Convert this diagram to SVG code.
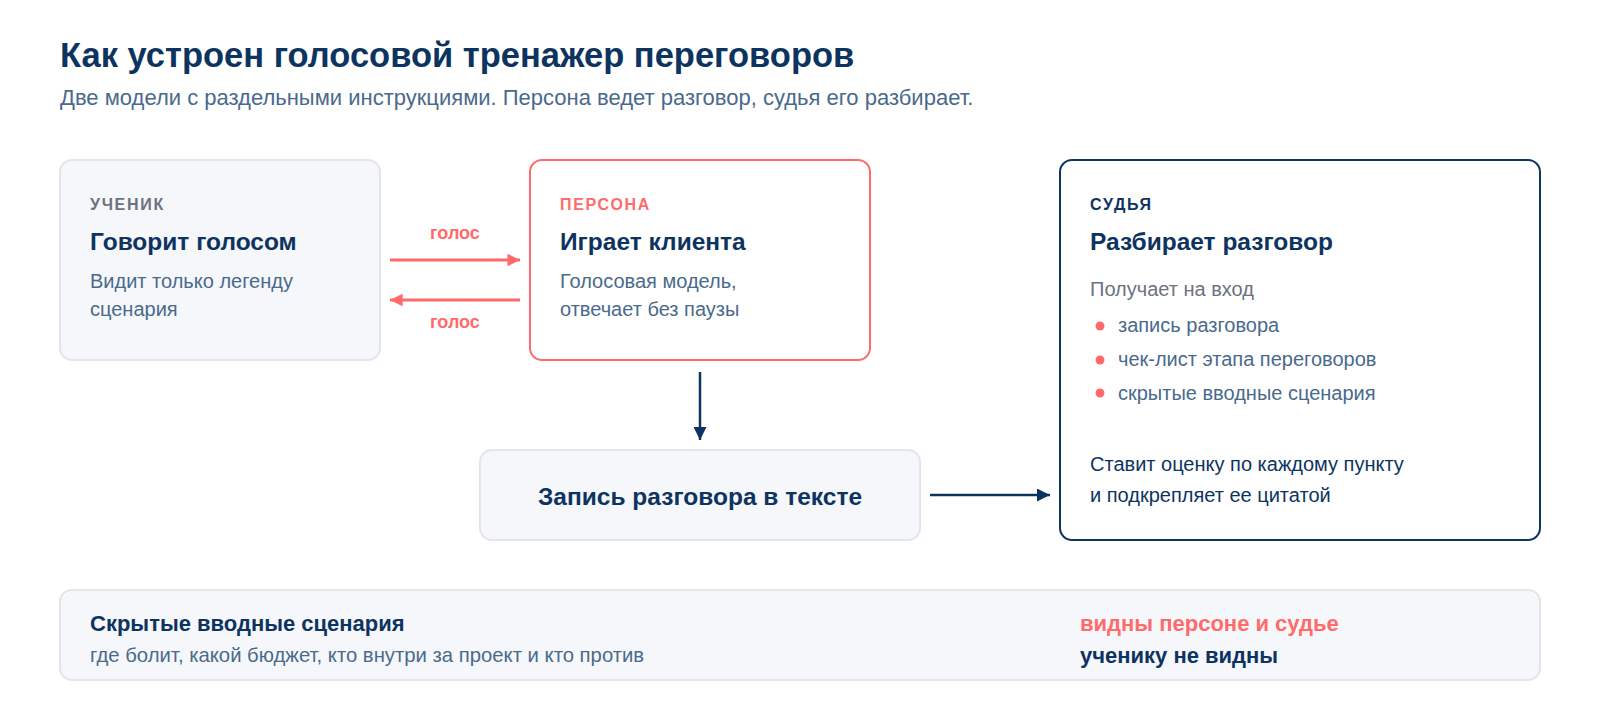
<svg xmlns="http://www.w3.org/2000/svg" width="1600" height="720" viewBox="0 0 1600 720">
<defs>
<style>
text{font-family:"Liberation Sans",Arial,sans-serif}
.title{font-size:34.5px;font-weight:700;fill:#0d3461}
.sub{font-size:22px;fill:#4a6a8c}
.soft{fill:#f6f7fb;stroke:#e3e5eb;stroke-width:2}
.tag{font-size:16px;font-weight:700;letter-spacing:1.7px}
.head{font-size:24.5px;font-weight:700;fill:#0d3461}
.body{font-size:20px;fill:#4a6a8c}
.li{font-size:20px;fill:#4a6a8c}
.lbl{font-size:18px;font-weight:700;fill:#ff6b6b}
.coral{stroke:#ff6b6b;stroke-width:3;fill:none}
.navy{stroke:#0d3461;stroke-width:2.5;fill:none}
</style>
<marker id="ac" viewBox="0 0 10 10" refX="10" refY="5" markerWidth="4.2" markerHeight="4.2" markerUnits="strokeWidth" orient="auto"><path d="M0,0L10,5L0,10z" fill="#ff6b6b"/></marker>
<marker id="an" viewBox="0 0 10 10" refX="10" refY="5" markerWidth="5.2" markerHeight="5.2" markerUnits="strokeWidth" orient="auto"><path d="M0,0L10,5L0,10z" fill="#0d3461"/></marker>
</defs>
<rect width="1600" height="720" fill="#fff"/>
<text class="title" x="60" y="67">Как устроен голосовой тренажер переговоров</text>
<text class="sub" x="60" y="105">Две модели с раздельными инструкциями. Персона ведет разговор, судья его разбирает.</text>

<g id="student">
<rect class="soft" x="60" y="160" width="320" height="200" rx="12"/>
<text class="tag" x="90" y="210" fill="#6b7280">УЧЕНИК</text>
<text class="head" x="90" y="250">Говорит голосом</text>
<text class="body" x="90" y="288">Видит только легенду</text>
<text class="body" x="90" y="316">сценария</text>
</g>

<g id="persona">
<rect x="530" y="160" width="340" height="200" rx="12" fill="#fff" stroke="#ff6b6b" stroke-width="2"/>
<text class="tag" x="560" y="210" fill="#ff6b6b">ПЕРСОНА</text>
<text class="head" x="560" y="250">Играет клиента</text>
<text class="body" x="560" y="288">Голосовая модель,</text>
<text class="body" x="560" y="316">отвечает без паузы</text>
</g>

<g id="transcript">
<rect class="soft" x="480" y="450" width="440" height="90" rx="12"/>
<text class="head" x="700" y="505" text-anchor="middle">Запись разговора в тексте</text>
</g>

<g id="judge">
<rect x="1060" y="160" width="480" height="380" rx="12" fill="#fff" stroke="#0d3461" stroke-width="2"/>
<text class="tag" x="1090" y="210" fill="#0d3461">СУДЬЯ</text>
<text class="head" x="1090" y="250">Разбирает разговор</text>
<text x="1090" y="296" font-size="20" fill="#6b7280">Получает на вход</text>
<circle cx="1100" cy="326" r="4.5" fill="#ff6b6b"/>
<circle cx="1100" cy="360" r="4.5" fill="#ff6b6b"/>
<circle cx="1100" cy="393" r="4.5" fill="#ff6b6b"/>
<text class="li" x="1118" y="332">запись разговора</text>
<text class="li" x="1118" y="366">чек-лист этапа переговоров</text>
<text class="li" x="1118" y="400">скрытые вводные сценария</text>
<text x="1090" y="471" font-size="20" fill="#0d3461">Ставит оценку по каждому пункту</text>
<text x="1090" y="502" font-size="20" fill="#0d3461">и подкрепляет ее цитатой</text>
</g>

<g id="connectors">
<line class="coral" x1="390" y1="260" x2="520" y2="260" marker-end="url(#ac)"/>
<text class="lbl" x="455" y="239" text-anchor="middle">голос</text>
<line class="coral" x1="520" y1="300" x2="390" y2="300" marker-end="url(#ac)"/>
<text class="lbl" x="455" y="328" text-anchor="middle">голос</text>
<line class="navy" x1="700" y1="372" x2="700" y2="440" marker-end="url(#an)"/>
<line class="navy" x1="930" y1="495" x2="1050" y2="495" marker-end="url(#an)"/>
</g>

<g id="legend">
<rect class="soft" x="60" y="590" width="1480" height="90" rx="12"/>
<text x="90" y="631" font-size="22" font-weight="700" fill="#0d3461">Скрытые вводные сценария</text>
<text x="90" y="662" font-size="20.3" fill="#4a6a8c">где болит, какой бюджет, кто внутри за проект и кто против</text>
<text x="1080" y="631" font-size="22" font-weight="700" fill="#ff6b6b">видны персоне и судье</text>
<text x="1080" y="663" font-size="22" font-weight="700" fill="#0d3461">ученику не видны</text>
</g>
</svg>
